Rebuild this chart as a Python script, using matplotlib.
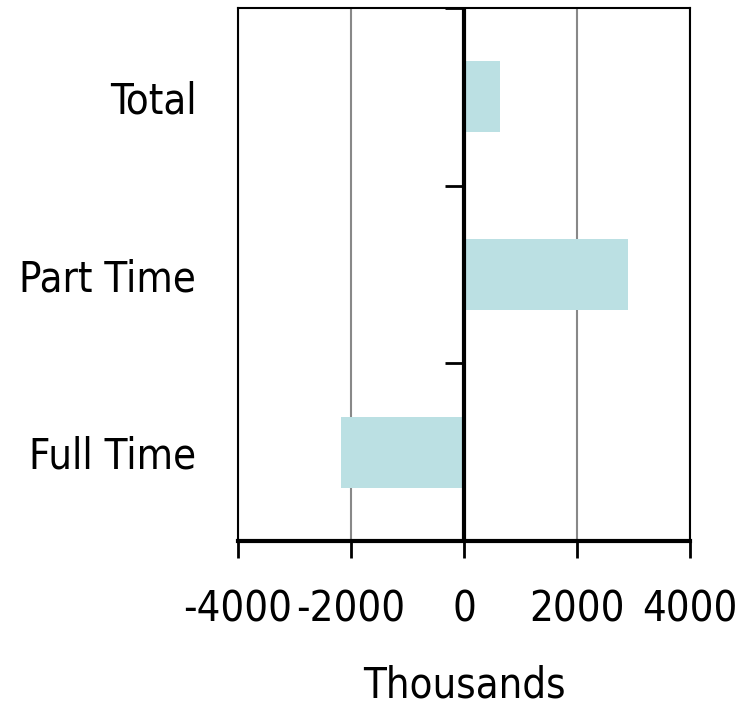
import numpy as np
import matplotlib.pyplot as plt

# change in employment, thousands
categories = ["Full Time", "Part Time", "Total"]
values = [-2180, 2900, 630]
xticks = [-4000, -2000, 0, 2000, 4000]

plt.rcParams['font.family'] = ['DejaVu Sans']
plt.rcParams['font.stretch'] = 'condensed'
plt.rcParams['font.weight'] = 'light'

fig = plt.figure(figsize=(7.41, 7.07), dpi=100)
ax = fig.add_axes([238/741, 1 - 541/707, 452/741, 533/707])

y = np.arange(len(categories))
ax.barh(y, values, height=0.4, color='#bbe0e3', zorder=2)

ax.set_xlim(-4000, 4000)
ax.set_ylim(-0.5, len(categories) - 0.5)
ax.set_xticks(xticks)
ax.set_xticklabels([str(v) for v in xticks], fontsize=30)
ax.set_yticks(y)
ax.set_yticklabels(categories, fontsize=30)
ax.tick_params(axis='y', length=0, pad=30)
ax.tick_params(axis='x', direction='out', length=12, width=2, pad=22)
ax.set_xlabel("Thousands", fontsize=30, labelpad=25)

for s in ['left', 'right', 'top']:
    ax.spines[s].set_linewidth(1.5)
ax.spines['bottom'].set_linewidth(3)

ax.grid(axis='x', color='#888888', linewidth=1.5, zorder=0)
ax.axvline(0, color='black', linewidth=3, zorder=3)

# category axis crossing at zero, with tick marks between categories
sec = ax.secondary_yaxis(0.5)
sec.set_yticks(np.arange(len(categories) + 1) - 0.5)
sec.set_yticklabels([])
sec.tick_params(direction='in', length=14, width=2)
sec.spines['left'].set_visible(False)

fig.savefig("out.png", dpi=100)
